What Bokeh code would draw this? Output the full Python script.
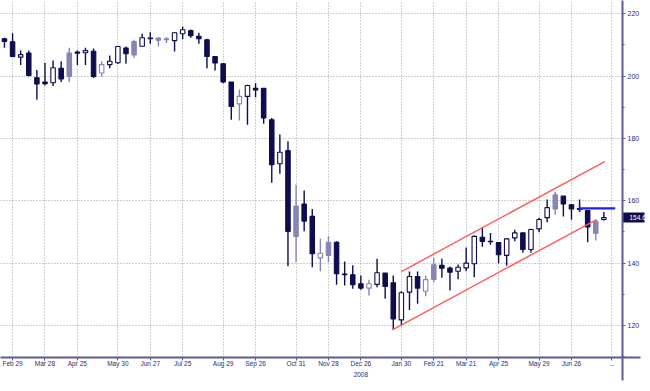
from bokeh.plotting import figure
from bokeh.models import Range1d, FixedTicker, LinearAxis, ColumnDataSource
from bokeh.embed import file_html
from bokeh.resources import INLINE

# ---------------- data ----------------
OPEN = [212.0, 211.0, 206.1, 207.4, 199.5, 198.1, 197.9, 202.5, 207.4, 207.7,
        207.5, 208.0, 201.0, 203.7, 204.3, 209.0, 211.1, 209.6, 212.2, 212.2,
        212.0, 211.4, 213.6, 214.6, 212.8, 211.7, 206.3, 204.0, 198.1, 191.1,
        193.5, 196.1, 196.1, 186.0, 171.9, 176.1, 158.3, 159.0, 155.0, 141.7,
        146.7, 146.7, 136.5, 136.3, 133.4, 132.0, 133.2, 136.8, 133.7, 121.8,
        130.7, 135.7, 131.0, 139.5, 139.3, 138.4, 137.4, 138.5, 139.8, 148.3,
        147.0, 146.6, 142.5, 148.1, 149.7, 144.4, 151.0, 154.6, 161.9, 161.5,
        158.7, 157.5, 156.9, 153.4, 154.0]
HIGH = [212.3, 213.8, 208.2, 208.2, 202.0, 204.2, 205.0, 204.8, 209.1, 208.2,
        209.1, 208.9, 204.8, 206.6, 209.7, 209.5, 211.7, 213.6, 214.1, 212.5,
        212.5, 214.1, 215.9, 215.0, 213.9, 212.0, 206.3, 204.2, 198.1, 195.7,
        197.2, 197.7, 196.1, 186.6, 181.3, 179.1, 165.2, 163.3, 157.4, 147.8,
        148.6, 147.0, 140.5, 139.3, 136.0, 134.7, 141.4, 136.8, 136.0, 131.0,
        137.3, 137.3, 136.0, 141.7, 141.4, 138.9, 139.6, 145.0, 148.9, 151.5,
        149.7, 146.6, 148.0, 150.7, 149.9, 151.0, 154.6, 160.4, 162.8, 161.5,
        159.0, 160.4, 156.9, 153.9, 156.4]
LOW = [209.1, 206.1, 203.6, 199.9, 192.4, 197.0, 196.8, 198.1, 198.1, 203.6,
       203.6, 199.4, 199.9, 202.5, 203.9, 204.0, 205.9, 209.5, 210.4, 209.5,
       210.6, 207.9, 211.8, 212.3, 210.4, 202.5, 201.8, 197.7, 186.0, 185.8,
       184.4, 193.2, 184.7, 165.8, 168.7, 139.0, 140.3, 150.2, 138.7, 137.4,
       140.3, 133.1, 132.8, 131.8, 131.5, 129.6, 132.3, 128.6, 118.6, 120.0,
       125.0, 127.0, 129.4, 133.9, 135.3, 131.2, 134.8, 137.4, 135.5, 145.3,
       145.9, 140.0, 139.2, 147.0, 143.3, 143.3, 149.9, 153.1, 155.5, 155.0,
       153.9, 156.4, 146.7, 147.3, 153.7]
CLOSE = [211.1, 206.3, 206.9, 200.2, 197.5, 197.6, 202.7, 199.1, 199.9, 207.4,
         208.2, 199.9, 203.7, 204.8, 209.5, 207.2, 206.8, 212.3, 212.0, 211.5,
         211.7, 213.9, 214.9, 213.0, 212.0, 206.3, 204.2, 198.1, 190.3, 193.5,
         197.0, 195.6, 186.6, 171.6, 175.6, 150.2, 148.6, 153.5, 143.0, 143.2,
         142.5, 136.6, 136.3, 133.1, 132.0, 133.4, 136.9, 132.5, 122.1, 130.5,
         135.7, 132.0, 134.7, 134.8, 138.4, 137.1, 138.7, 140.0, 148.6, 147.0,
         146.9, 142.7, 147.8, 149.7, 144.4, 150.8, 154.0, 157.8, 157.4, 159.0,
         157.4, 157.2, 151.6, 149.6, 154.6]

X_TICKS = [1, 5, 9, 14, 18, 22, 27, 31, 36, 40, 44, 49, 53, 57, 61, 66, 70, 75]
X_LABELS = ["Feb 29", "Mar 28", "Apr 25", "May 30", "Jun 27", "Jul 25", "Aug 29",
            "Sep 26", "Oct 31", "Nov 28", "Dec 26", "Jan 30", "Feb 21", "Mar 21",
            "Apr 25", "May 29", "Jun 26", "..."]
YEAR_TICK = [44]
YEAR_LABEL = ["2008"]
Y_TICKS = [120, 140, 160, 180, 200, 220]
Y_MINOR = [110, 130, 150, 170, 190, 210]

UPPER_X = [49.0, 74.1]
UPPER_Y = [137.3, 172.6]
LOWER_X = [47.9, 73.1]
LOWER_Y = [118.6, 154.0]
LEVEL_X = [71.0, 75.4]
LEVEL_Y = [157.6, 157.6]
LAST_PRICE = 154.6

# ---------------- styling ----------------
DARK = "#0d0d4f"
LIGHT = "#8686b6"
AXIS = "#5c5c96"
TXT = "#2b2b70"
FONT = "Liberation Sans"
LIGHT_FILLED = {8, 16, 19, 20, 36, 40, 53, 68, 73}
LIGHT_HOLLOW = {12, 29, 39, 45, 52}
X_MIN, X_MAX = -0.49, 76.3
Y_MIN, Y_MAX = 109.73, 224.27

n = len(OPEN)
xs = list(range(n))
top = [max(o, c) for o, c in zip(OPEN, CLOSE)]
bot = [min(o, c) for o, c in zip(OPEN, CLOSE)]
fill, line = [], []
for i in xs:
    hollow = CLOSE[i] > OPEN[i]
    if hollow:
        col = LIGHT if i in LIGHT_HOLLOW else DARK
        fill.append("white")
        line.append(col)
    else:
        col = LIGHT if i in LIGHT_FILLED else DARK
        fill.append(col)
        line.append(col)

src = ColumnDataSource(dict(x=xs, high=HIGH, low=LOW, top=top, bot=bot,
                            fill=fill, line=line))

p = figure(width=650, height=391,
           x_range=Range1d(X_MIN, X_MAX), y_range=Range1d(Y_MIN, Y_MAX),
           output_backend="svg", toolbar_location=None,
           y_axis_location="right", x_axis_location="below",
           min_border_left=0, min_border_top=0,
           min_border_right=28, min_border_bottom=34,
           background_fill_color="white", border_fill_color="white",
           outline_line_color=None)
p.styles = {"position": "absolute", "left": "0px", "top": "0px"}

# grid
p.xgrid.ticker = FixedTicker(ticks=X_TICKS)
p.ygrid.ticker = FixedTicker(ticks=Y_TICKS)
for g in (p.xgrid[0], p.ygrid[0]):
    g.grid_line_color = "#a0a0a0"
    g.grid_line_dash = "1 2"
    g.grid_line_width = 1

# x axis
xa = p.xaxis[0]
xa.ticker = FixedTicker(ticks=X_TICKS)
xa.major_label_overrides = {t: l for t, l in zip(X_TICKS, X_LABELS)}
xa.axis_line_color = AXIS
xa.axis_line_width = 2
xa.major_tick_line_color = AXIS
xa.major_tick_out = 3
xa.major_tick_in = 0
xa.minor_tick_line_color = None
xa.major_label_standoff = -1
xa.major_label_text_font_size = "6.5px"
xa.major_label_text_color = TXT
xa.major_label_text_font = FONT

yr = LinearAxis(ticker=FixedTicker(ticks=YEAR_TICK),
                major_label_overrides={t: l for t, l in zip(YEAR_TICK, YEAR_LABEL)},
                axis_line_color=None, major_tick_line_color=None,
                minor_tick_line_color=None, major_label_standoff=-4,
                major_label_text_font_size="6.5px", major_label_text_color=TXT,
                major_label_text_font=FONT)

# the right axis line continues below the x axis (drawn as a long tick)
vext = LinearAxis(ticker=FixedTicker(ticks=[X_MAX - 0.01]),
                  major_label_overrides={X_MAX - 0.01: ""},
                  axis_line_color=None, minor_tick_line_color=None,
                  major_tick_line_color=AXIS, major_tick_line_width=2,
                  major_tick_out=0, major_tick_in=-23,
                  major_label_standoff=0, major_label_text_font_size="1px")
p.below = [vext, xa, yr]

# y axis
ya = p.yaxis[0]
ya.ticker = FixedTicker(ticks=Y_TICKS, minor_ticks=Y_MINOR)
ya.axis_line_color = AXIS
ya.axis_line_width = 2
ya.major_tick_line_color = AXIS
ya.major_tick_out = 3
ya.major_tick_in = 0
ya.minor_tick_line_color = AXIS
ya.minor_tick_out = 2
ya.minor_tick_in = 0
ya.major_label_standoff = 2
ya.major_label_text_font_size = "7px"
ya.major_label_text_color = TXT
ya.major_label_text_font = FONT

# the x axis line continues right of the y axis (drawn as a long tick)
hext = LinearAxis(ticker=FixedTicker(ticks=[Y_MIN + 0.02]),
                  major_label_overrides={Y_MIN + 0.02: ""},
                  axis_line_color=None, minor_tick_line_color=None,
                  major_tick_line_color=AXIS, major_tick_line_width=2,
                  major_tick_out=0, major_tick_in=-18,
                  major_label_standoff=0, major_label_text_font_size="1px")

# last-price marker on the right axis: a dark box (thick tick) + white text
box_axis = LinearAxis(ticker=FixedTicker(ticks=[LAST_PRICE]),
                      major_label_overrides={LAST_PRICE: ""},
                      axis_line_color=None, minor_tick_line_color=None,
                      major_tick_line_color=DARK, major_tick_line_width=10,
                      major_tick_out=0, major_tick_in=-22,
                      major_label_standoff=0, major_label_text_font_size="1px")
txt_axis = LinearAxis(ticker=FixedTicker(ticks=[LAST_PRICE]),
                      major_label_overrides={LAST_PRICE: f"{LAST_PRICE:.1f}"},
                      axis_line_color=None, minor_tick_line_color=None,
                      major_tick_line_color=None, major_tick_out=0, major_tick_in=0,
                      major_label_standoff=-13,
                      major_label_text_font_size="6.5px", major_label_text_font=FONT,
                      major_label_text_color="white")
p.right = [hext, box_axis, ya, txt_axis]

# candles
p.segment(x0="x", y0="high", x1="x", y1="low", line_color="line",
          line_width=1.4, source=src)
p.vbar(x="x", width=0.55, top="top", bottom="bot", fill_color="fill",
       line_color="line", line_width=1.1, source=src)

# channel and level
p.line(UPPER_X, UPPER_Y, line_color="#ff5a5a", line_width=1.4)
p.line(LOWER_X, LOWER_Y, line_color="#ff5a5a", line_width=1.4)
p.line(LEVEL_X, LEVEL_Y, line_color="#1c1cff", line_width=2.2)
p.segment(x0=[LEVEL_X[0]], y0=[LEVEL_Y[0] - 1.2], x1=[LEVEL_X[0]],
          y1=[LEVEL_Y[0] + 1.2], line_color="#1c1cff", line_width=1.5)

open("out.html", "w").write(file_html(p, INLINE))
